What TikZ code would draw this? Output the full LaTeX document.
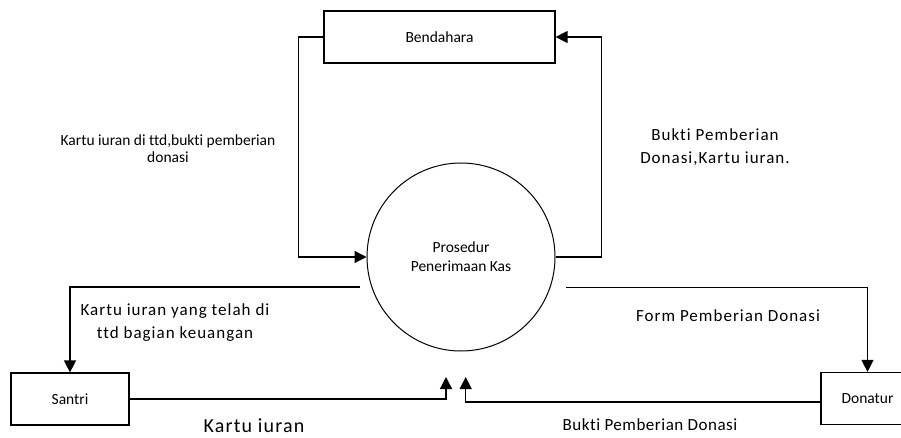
\documentclass[tikz,border=0pt]{standalone}
\usepackage{fontspec}
\setmainfont{Carlito}[Ligatures={NoCommon}]
\newfontfamily\spacedA{Carlito}[LetterSpace=6,Ligatures={NoCommon}]
\newfontfamily\spacedB{Carlito}[LetterSpace=3,Ligatures={NoCommon}]
\usetikzlibrary{arrows.meta}
\tikzset{
  box/.style={draw, line width=1.2pt, minimum width=#1, minimum height=52, inner sep=0pt},
  proc/.style={draw, circle, line width=1pt, minimum size=188, inner sep=0pt, align=center},
  flow/.style={line width=1.3pt, -{Triangle[length=12pt,width=12pt]}},
  smalltxt/.style={font=\fontsize{15.5}{17}\selectfont, align=center, inner sep=0pt},
  bigtxt/.style={font=\spacedA\fontsize{17}{23}\selectfont, align=center, inner sep=0pt},
}
\begin{document}
\begin{tikzpicture}[x=1pt,y=-1pt]
\useasboundingbox (0,0) rectangle (901,438);
% nodes
\node[box=231, smalltxt] (bend) at (439.5,37) {Bendahara};
\node[proc, font=\fontsize{15.5}{19}\selectfont] (proc) at (461,257) {Prosedur\\Penerimaan Kas};
\node[box=118, smalltxt] (santri) at (70,399) {Santri};
\node[box=93, smalltxt] (donatur) at (867.5,398.5) {Donatur};
% free ends
\coordinate (s1) at (360,287);
\coordinate (d1) at (566,287.5);
\coordinate (a1) at (446,377);
\coordinate (a2) at (465.7,377);
% connectors
\draw[flow] (bend.west) -- ++(-25,0) |- (proc.west);
\draw[flow] (proc.east) -- ++(46,0) |- (bend.east);
\draw[flow] (s1) -| (santri.north);
\draw[flow] (d1) -| (donatur.north);
\draw[flow] (santri.east) -| (a1);
\draw[flow] ([yshift=-3.5pt]donatur.west) -| (a2);
% labels
\node[smalltxt] (l1) at (168,148.5) {Kartu iuran di ttd,bukti pemberian\\donasi};
\node[bigtxt] (l2) at (715,147) {Bukti Pemberian\\Donasi,Kartu iuran.};
\node[bigtxt] (l3) at (175,323) {Kartu iuran yang telah di\\ttd bagian keuangan};
\node[bigtxt] (l4) at (728,316) {Form Pemberian Donasi};
\node[font=\spacedA\fontsize{20}{24}\selectfont, inner sep=0pt] (l5) at (254,426) {Kartu iuran};
\node[font=\spacedB\fontsize{17}{20}\selectfont, inner sep=0pt] (l6) at (650,425) {Bukti Pemberian Donasi};
\end{tikzpicture}
\end{document}
